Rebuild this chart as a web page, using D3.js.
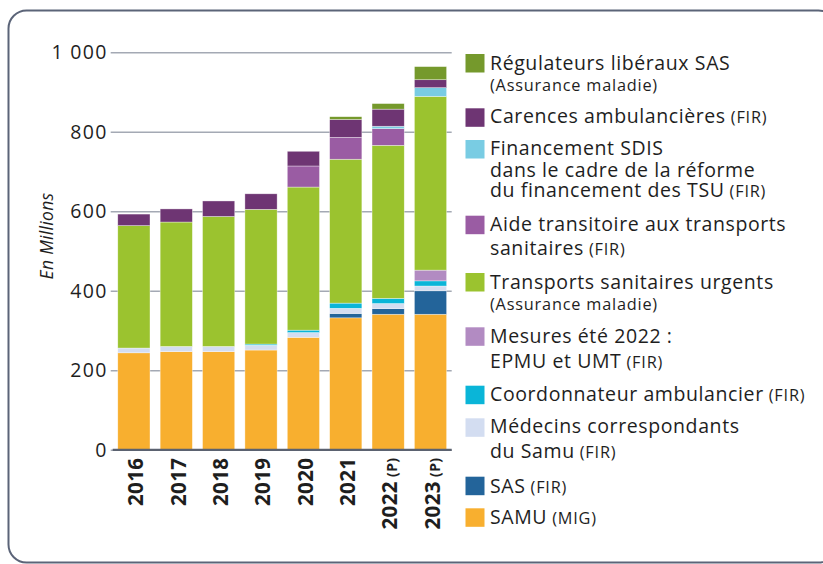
<!DOCTYPE html>
<html><head><meta charset="utf-8">
<script src="https://cdn.jsdelivr.net/npm/d3@7"></script>
<style>
html,body{margin:0;padding:0;background:#fff;}
svg{display:block;font-family:"Open Sans",sans-serif;}
</style></head>
<body>
<svg id="chart" width="823" height="564"></svg>
<script>
const years = ["2016","2017","2018","2019","2020","2021","2022","2023"];
const yearSuffix = ["","","","","","","(P)","(P)"];
const samu      = [244, 247, 247, 251, 283, 332, 341, 341];
const sas       = [0, 0, 0, 0, 0, 11, 14, 59];
const medecins  = [12, 13, 13, 12, 12, 13, 13, 12];
const coord     = [0, 0, 0, 3, 6, 13, 13, 13];
const mesures   = [0, 0, 0, 0, 0, 0, 0, 27];
const tsu       = [308, 313, 327, 339, 360, 362, 385, 437];
const aide      = [0, 0, 0, 0, 53, 55, 42, 0];
const sdis      = [0, 0, 0, 0, 0, 0, 6, 22];
const carences  = [29, 33, 39, 39, 37, 45, 43, 20];
const regul     = [0, 0, 0, 0, 0, 7, 14, 33];
const yTicks = [0, 200, 400, 600, 800, 1000];

const seriesDefs = [
  {key:"samu", values:samu, color:"#f8af2f", label:[[["SAMU",0],[" (MIG)",1]]]},
  {key:"sas", values:sas, color:"#23649a", label:[[["SAS",0],[" (FIR)",1]]]},
  {key:"med", values:medecins, color:"#d3ddf1", label:[[["Médecins correspondants",0]],[["du Samu",0],[" (FIR)",1]]]},
  {key:"coord", values:coord, color:"#0ab5d8", label:[[["Coordonnateur ambulancier",0],[" (FIR)",1]]]},
  {key:"mesures", values:mesures, color:"#b28bc2", label:[[["Mesures été 2022 :",0]],[["EPMU et UMT",0],[" (FIR)",1]]]},
  {key:"tsu", values:tsu, color:"#9bc32f", label:[[["Transports sanitaires urgents",0]],[["(Assurance maladie)",1]]]},
  {key:"aide", values:aide, color:"#9a5ca3", label:[[["Aide transitoire aux transports",0]],[["sanitaires",0],[" (FIR)",1]]]},
  {key:"sdis", values:sdis, color:"#79cce3", label:[[["Financement SDIS",0]],[["dans le cadre de la réforme",0]],[["du financement des TSU",0],[" (FIR)",1]]]},
  {key:"car", values:carences, color:"#6e3573", label:[[["Carences ambulancières",0],[" (FIR)",1]]]},
  {key:"reg", values:regul, color:"#75992c", label:[[["Régulateurs libéraux SAS",0]],[["(Assurance maladie)",1]]]}
];

const svg = d3.select("#chart");

// frame
svg.append("rect").attr("x",8.5).attr("y",10.5).attr("width",828).attr("height",552)
  .attr("rx",18).attr("fill","none").attr("stroke","#5b6478").attr("stroke-width",2);

const x0 = 112.7, x1 = 451.7;
const x = d3.scaleBand().domain(years).range([x0, x1]).paddingInner(0.24).paddingOuter(0.12);
const y = d3.scaleLinear().domain([0,1000]).range([449.8, 52.3]);

// grid + y ticks
const fr = d3.formatLocale({decimal:",", thousands:" ", grouping:[3], currency:["","€"]});
const yAxis = d3.axisLeft(y).tickValues(yTicks).tickSize(-(x1-x0)).tickPadding(6)
  .tickFormat(fr.format(","));
const gy = svg.append("g").attr("transform",`translate(${x0},0)`).call(yAxis);
gy.select(".domain").remove();
gy.selectAll(".tick line").attr("stroke","#a4a9b4").attr("stroke-width",1.6).attr("x2", x1-x0).attr("x1",-2);
gy.selectAll(".tick text").attr("font-size",19.5).attr("letter-spacing",1.3).attr("fill","#1e1e1e")
  .attr("x",-5).attr("font-family","Open Sans");

// stack
const table = years.map((yr,i) => {
  const o = {year: yr};
  seriesDefs.forEach(s => o[s.key] = s.values[i]);
  return o;
});
const stack = d3.stack().keys(seriesDefs.map(s=>s.key));
const stacked = stack(table);

const gBars = svg.append("g");
stacked.forEach((layer, li) => {
  gBars.append("g").attr("fill", seriesDefs[li].color)
    .selectAll("rect").data(layer.filter(d => d[1]-d[0] > 0)).join("rect")
    .attr("x", d => x(d.data.year))
    .attr("width", x.bandwidth())
    .attr("y", d => y(d[1]))
    .attr("height", d => y(d[0]) - y(d[1]))
    .attr("stroke","#ffffff").attr("stroke-opacity",0.6).attr("stroke-width",0.6);
});

// baseline
svg.append("line").attr("x1",x0).attr("x2",x1).attr("y1",y(0)).attr("y2",y(0))
  .attr("stroke","#5b6270").attr("stroke-width",2.2);

// x labels
years.forEach((yr,i) => {
  const cx = x(yr) + x.bandwidth()/2;
  const t = svg.append("text")
    .attr("transform", `translate(${cx+9.3},${457.5}) rotate(-90)`)
    .attr("text-anchor","end").attr("font-weight","bold").attr("font-size",20.5)
    .attr("letter-spacing",0.4).attr("fill","#1e1e1e");
  t.append("tspan").text(yr);
  if (yearSuffix[i]) t.append("tspan").attr("font-size",14).text(" " + yearSuffix[i]);
});

// y title
svg.append("text").attr("transform","translate(53,236) rotate(-90)").attr("text-anchor","middle")
  .attr("font-style","italic").attr("font-size",17.5).attr("letter-spacing",0.3)
  .attr("fill","#1e1e1e").text("En Millions");

// legend (top to bottom is reverse of stack)
const legendY = [54, 108.3, 140, 215.7, 273, 327.3, 385.7, 418.3, 476.7, 508.3];
const legendBaselines = [
  [69.5, 91],
  [122.7],
  [155, 176.7, 197.3],
  [230.7, 255],
  [289.3, 310],
  [343.3, 368.3],
  [400.7],
  [433.3, 458.3],
  [492.7],
  [524]
];
const legendOrder = seriesDefs.slice().reverse();
const gl = svg.append("g");
legendOrder.forEach((s, i) => {
  gl.append("rect").attr("x",465.5).attr("y",legendY[i]).attr("width",19).attr("height",18.5)
    .attr("fill", s.color);
  s.label.forEach((line, li) => {
    const t = gl.append("text").attr("x",490).attr("y",legendBaselines[i][li]).attr("fill","#1e1e1e")
      .attr("font-size",19.5);
    line.forEach(([txt, small]) => {
      t.append("tspan").attr("font-size", small ? 16.3 : 19.5)
        .attr("letter-spacing", small ? 0.8 : 0.6).text(txt);
    });
  });
});
</script>
</body></html>
